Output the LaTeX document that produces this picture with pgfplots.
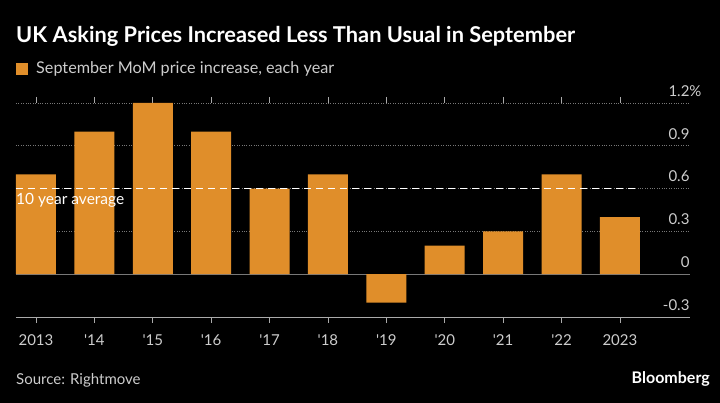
\documentclass[border=0pt]{standalone}
\usepackage{pgfplots}
\pgfplotsset{compat=1.18}
\usepackage{fontspec}
\setmainfont{Lato}
\definecolor{barc}{RGB}{224,142,42}
\definecolor{txt}{RGB}{205,205,205}
\definecolor{gridc}{RGB}{120,120,120}
\definecolor{axc}{RGB}{170,170,170}
\begin{document}
\begin{tikzpicture}[x=1pt,y=1pt]
\fill[black] (0,0) rectangle (720,403);
\useasboundingbox (0,0) rectangle (720,403);
\node[anchor=base west, inner sep=0, text=white, font=\fontsize{21.8}{24}\selectfont\bfseries] at (16,360) {UK Asking Prices Increased Less Than Usual in September};
\fill[barc] (16,328) rectangle (28,340);
\node[anchor=base west, inner sep=0, text=txt, font=\fontsize{16.2}{19}\selectfont] at (36,329) {September MoM price increase, each year};
\node[anchor=base west, inner sep=0, text=txt, font=\fontsize{15}{18}\selectfont] at (16,18) {Source: Rightmove};
\node[anchor=base east, inner sep=0, text=white, font=\fontsize{16}{19}\selectfont\bfseries] at (710,19) {Bloomberg};
\begin{axis}[
  at={(16pt,86pt)}, anchor=south west,
  scale only axis, width=674pt, height=214pt,
  xmin=-0.342, xmax=11.2, ymin=-0.3, ymax=1.2,
  axis line style={draw=none},
  ybar, bar width=40pt,
  xtick=data,
  xticklabels={2013,\textquotesingle14,\textquotesingle15,\textquotesingle16,\textquotesingle17,\textquotesingle18,\textquotesingle19,\textquotesingle20,\textquotesingle21,\textquotesingle22,2023},
  xtick align=outside, major tick length=6pt,
  xtick style={draw=axc, line width=0.8pt},
  ytick={-0.3,0,0.3,0.6,0.9,1.2},
  yticklabels={-0.3,0,0.3,0.6,0.9,1.2\rlap{\%}},
  ytick style={draw=none},
  yticklabel pos=right,
  yticklabel style={anchor=south east, xshift=3pt, yshift=3pt},
  ymajorgrids, grid style={gridc, dotted, line width=0.8pt},
  tick label style={text=txt, font=\fontsize{15}{17}\selectfont},
  xticklabel style={yshift=-8pt},
  /pgf/number format/assume math mode=true,
  clip=false,
]
\draw[gridc, line width=0.8pt] (axis cs:-0.342,0) -- (axis cs:11.2,0);
\addplot[fill=barc, draw=none, bar shift=0pt] coordinates {
(0,0.7) (1,1.0) (2,1.2) (3,1.0) (4,0.6) (5,0.7) (6,-0.2) (7,0.2) (8,0.3) (9,0.7) (10,0.4)};
\addplot[white, line width=1.5pt, dash pattern=on 7pt off 5pt, sharp plot] coordinates {(-0.342,0.6) (10.34,0.6)};
\draw[axc, line width=0.8pt] (axis cs:-0.342,-0.3) -- (axis cs:11.2,-0.3);
\node[anchor=north west, inner sep=0, text=white, font=\fontsize{15.5}{18}\selectfont] at ([yshift=-4pt]axis cs:-0.342,0.6) {10 year average};
\end{axis}
\end{tikzpicture}
\end{document}
